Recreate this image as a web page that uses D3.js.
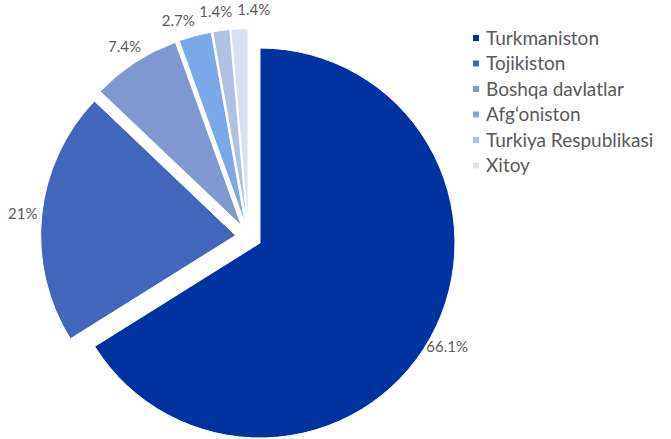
<!DOCTYPE html>
<html>
<head>
<meta charset="utf-8">
<script src="https://cdn.jsdelivr.net/npm/d3@7"></script>
<style>
  body { margin: 0; background: #fff; }
  text { font-family: Lato, "Open Sans", sans-serif; fill: #595959; }
</style>
</head>
<body>
<div id="chart"></div>
<script>
// data
let countries = ["Turkmaniston", "Tojikiston", "Boshqa davlatlar", "Afg\u2018oniston", "Turkiya Respublikasi", "Xitoy"]
let shares = [66.1, 21, 7.4, 2.7, 1.4, 1.4]
let labels = ["66.1%", "21%", "7.4%", "2.7%", "1.4%", "1.4%"]
let colors = ["#00339f", "#4166ba", "#7f98cf", "#7ba8e8", "#b0c0e2", "#d8e0f2"]

let svgWidth = 671
let svgHeight = 439
let cx = 248.6, cy = 236.7
let radius = 195
let explode = 13
let labelR = radius + 19

let svg = d3.select("#chart")
    .append("svg")
    .attr("width", svgWidth)
    .attr("height", svgHeight);

let pie = d3.pie().sort(null).value(d => d)
let arcs = pie(shares)
let arc = d3.arc().innerRadius(0).outerRadius(radius)

let chartGroup = svg.append("g")
    .attr("transform", `translate(${cx}, ${cy})`);

let mid = d => (d.startAngle + d.endAngle) / 2

let slices = chartGroup.selectAll("g.slice")
    .data(arcs)
    .enter()
    .append("g")
    .attr("class", "slice")
    .attr("transform", d => `translate(${Math.sin(mid(d)) * explode}, ${-Math.cos(mid(d)) * explode})`)

slices.append("path")
    .attr("d", arc)
    .attr("fill", (d, i) => colors[i])
    .attr("stroke", "#fff")
    .attr("stroke-width", 1)

// labels outside the arc
let labelText = slices.append("text")
    .attr("text-anchor", "middle")
    .attr("dy", "0.35em")
    .style("font-size", "15px")
    .text((d, i) => labels[i])

// spread out labels that would collide (small slices at the top)
let ang = arcs.map(mid)
let widths = labelText.nodes().map(n => n.getComputedTextLength())
for (let it = 0; it < 200; it++) {
    for (let i = 0; i < ang.length - 1; i++) {
        let need = (widths[i] / 2 + widths[i + 1] / 2 + 4) / labelR
        let gap = ang[i + 1] - ang[i]
        if (gap < need) {
            let push = (need - gap) / 2
            ang[i] -= push
            ang[i + 1] += push
        }
    }
}

labelText
    .attr("x", (d, i) => Math.sin(ang[i]) * labelR)
    .attr("y", (d, i) => -Math.cos(ang[i]) * labelR)

// legend
let legend = svg.append("g")
    .attr("transform", "translate(473, 38)")

let rows = legend.selectAll("g")
    .data(countries)
    .enter()
    .append("g")
    .attr("transform", (d, i) => `translate(0, ${i * 25.5})`)

rows.append("rect")
    .attr("x", 0)
    .attr("y", -3)
    .attr("width", 6)
    .attr("height", 6)
    .attr("fill", (d, i) => colors[i])

rows.append("text")
    .attr("x", 13)
    .attr("y", 0)
    .attr("dy", "0.35em")
    .style("font-size", "19px")
    .text(d => d)
</script>
</body>
</html>
